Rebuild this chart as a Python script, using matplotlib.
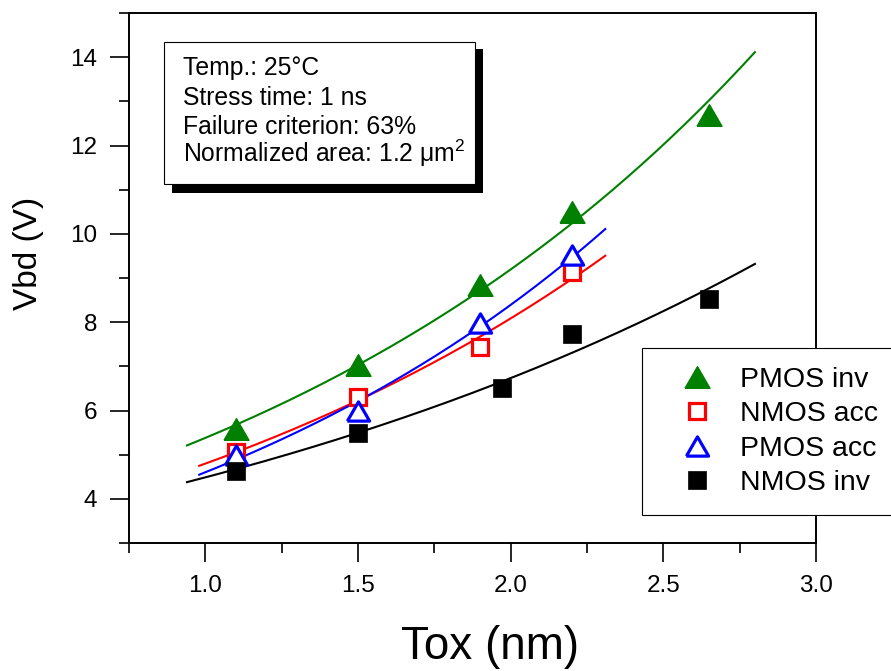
import numpy as np
import matplotlib
matplotlib.use("Agg")
import matplotlib.pyplot as plt
from matplotlib.patches import Rectangle
from matplotlib.ticker import MultipleLocator

plt.rcParams['font.family'] = ['Liberation Sans', 'DejaVu Sans']
plt.rcParams['mathtext.fontset'] = 'custom'
plt.rcParams['mathtext.rm'] = 'Liberation Sans'
plt.rcParams['mathtext.it'] = 'Liberation Sans:italic'

# ---- data ----
pmos_inv_x = [1.1, 1.5, 1.9, 2.2, 2.65]
pmos_inv_y = [5.59, 7.04, 8.84, 10.50, 12.69]
nmos_acc_x = [1.1, 1.5, 1.9, 2.2]
nmos_acc_y = [5.06, 6.30, 7.44, 9.14]
pmos_acc_x = [1.1, 1.5, 1.9, 2.2]
pmos_acc_y = [4.99, 5.99, 7.97, 9.53]
nmos_inv_x = [1.1, 1.5, 1.97, 2.2, 2.65]
nmos_inv_y = [4.64, 5.50, 6.50, 7.73, 8.53]

# x-range of the exponential fit curves
fit_range_pmos_inv = [0.94, 2.80]
fit_range_nmos_acc = [0.98, 2.31]
fit_range_pmos_acc = [0.98, 2.31]
fit_range_nmos_inv = [0.94, 2.80]

labels = ['PMOS inv', 'NMOS acc', 'PMOS acc', 'NMOS inv']
info_lines = ['Temp.: 25°C', 'Stress time: 1 ns', 'Failure criterion: 63%',
              'Normalized area: 1.2 μm$^2$']

W, H = 891, 671
fig = plt.figure(figsize=(W / 100, H / 100), dpi=100)
ax = fig.add_axes([129 / W, 1 - 543 / H, (816 - 129) / W, (543 - 13) / H])

tri = [(-1, -0.866), (1, -0.866), (0, 0.866), (-1, -0.866)]


def fit_curve(x, y, rng):
    b, ln_a = np.polyfit(np.asarray(x), np.log(np.asarray(y)), 1)
    xs = np.linspace(rng[0], rng[1], 200)
    return xs, np.exp(ln_a + b * xs)


series = [
    (pmos_inv_x, pmos_inv_y, fit_range_pmos_inv, 'green',
     dict(marker=tri, ms=18, mfc='green', mec='green', mew=1)),
    (nmos_acc_x, nmos_acc_y, fit_range_nmos_acc, 'red',
     dict(marker='s', ms=12, mfc='white', mec='red', mew=2.3)),
    (pmos_acc_x, pmos_acc_y, fit_range_pmos_acc, 'blue',
     dict(marker=tri, ms=16, mfc='white', mec='blue', mew=2.3)),
    (nmos_inv_x, nmos_inv_y, fit_range_nmos_inv, 'black',
     dict(marker='s', ms=13.5, mfc='black', mec='black', mew=0.5)),
]

handles = []
for (x, y, rng, col, mk) in series:
    xs, ys = fit_curve(x, y, rng)
    ax.plot(xs, ys, color=col, lw=1.5, zorder=2)

for i, (x, y, rng, col, mk) in enumerate(series):
    h, = ax.plot(x, y, ls='none', zorder=3 + i, label=labels[i], **mk)
    handles.append(h)

ax.set_xlim(0.75, 3.0)
ax.set_ylim(3, 15)
ax.xaxis.set_minor_locator(MultipleLocator(0.25))
ax.yaxis.set_minor_locator(MultipleLocator(1))
ax.set_xticks([1.0, 1.5, 2.0, 2.5, 3.0])
ax.set_xticklabels(['1.0', '1.5', '2.0', '2.5', '3.0'])
ax.set_yticks([4, 6, 8, 10, 12, 14])

for s in ax.spines.values():
    s.set_linewidth(1.4)
ax.tick_params(which='major', direction='out', length=14, width=1.2,
               labelsize=17.5, pad=9, top=False, right=False)
ax.tick_params(which='minor', direction='out', length=7, width=1.2,
               top=False, right=False)

ax.set_xlabel('Tox (nm)', fontsize=33)
ax.xaxis.label.set_va('baseline')
ax.xaxis.set_label_coords((490 - 129) / 687, (543 - 659) / 530)
ax.set_ylabel('Vbd (V)', fontsize=24)
ax.yaxis.label.set_va('center')
ax.yaxis.set_label_coords((28 - 129) / 687, (543 - 253) / 530)

# info box with shadow
fig.patches.append(Rectangle((172 / W, 1 - 193 / H), (483 - 172) / W, (193 - 49) / H,
                             transform=fig.transFigure, facecolor='black',
                             edgecolor='none', zorder=10))
fig.patches.append(Rectangle((164 / W, 1 - 184 / H), (475 - 164) / W, (184 - 42) / H,
                             transform=fig.transFigure, facecolor='white',
                             edgecolor='black', lw=0.8, zorder=11))
baselines = [75, 105, 133.5, 162]
for t, yb in zip(info_lines, baselines):
    fig.text(183 / W, 1 - yb / H, t, fontsize=17.8, va='baseline', ha='left', zorder=12)

# legend
leg = ax.legend(handles=handles, loc='upper left',
                bbox_to_anchor=(642 / W, 1 - 518 / H, 300 / W, (518 - 348) / H),
                bbox_transform=fig.transFigure, mode='expand', borderaxespad=0,
                fontsize=20.5, frameon=True, fancybox=False, framealpha=1,
                edgecolor='black', numpoints=1, handlelength=2.56,
                handletextpad=0.23, borderpad=0.65, labelspacing=0.3)
leg.get_frame().set_linewidth(0.8)

fig.savefig('out.png', dpi=100)
